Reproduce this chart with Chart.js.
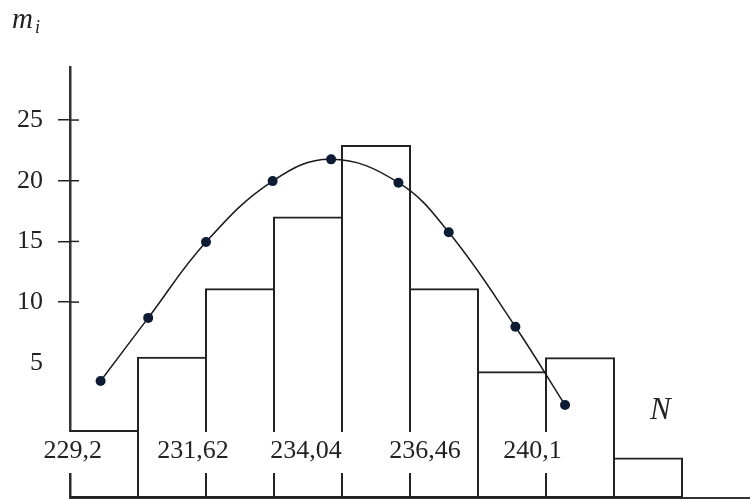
<!DOCTYPE html>
<html>
<head>
<meta charset="utf-8">
<title>Histogram m_i</title>
<script src="https://cdn.jsdelivr.net/npm/chart.js@4/dist/chart.umd.min.js"></script>
<style>
  html, body { margin: 0; padding: 0; background: #fff; }
  #wrap { width: 750px; height: 499px; }
</style>
</head>
<body>
<div id="wrap"><canvas id="histChart"></canvas></div>
<script>
// bar heights m_i, the bars all start from the lower edge
const barTops = [-0.54, 5.5, 11.15, 17.05, 22.95, 11.15, 4.3, 5.45, -2.8];
const barBase = -6.14;
const yMax = 29.37;

// smooth curve through the theoretical points
const curveX = [0.45, 1.15, 2.0, 2.98, 3.84, 4.83, 5.57, 6.55, 7.28];
const curveY = [3.5, 8.7, 14.95, 19.97, 21.76, 19.84, 15.75, 7.97, 1.52];

// class boundary labels and where they sit along x
const boundLabels = ['229,2', '231,62', '234,04', '236,46', '240,1'];
const boundAt = [0.04, 1.81, 3.47, 5.22, 6.8];

const yTicks = [5, 10, 15, 20, 25];
const serif = '"Liberation Serif", "Times New Roman", serif';
const ink = '#222';

// inner half of the tick marks, boundary labels on white boxes, axis names
const overlays = {
    id: 'overlays',
    afterDatasetsDraw(chart) {
        const { ctx, chartArea, scales: { x, y } } = chart;
        ctx.save();

        ctx.strokeStyle = ink;
        ctx.lineWidth = 1.5;
        yTicks.forEach(v => {
            if (v === 5) return;
            const py = y.getPixelForValue(v);
            ctx.beginPath();
            ctx.moveTo(chartArea.left, py);
            ctx.lineTo(chartArea.left + 9, py);
            ctx.stroke();
        });

        ctx.font = '26px ' + serif;
        ctx.textAlign = 'center';
        ctx.textBaseline = 'alphabetic';
        boundLabels.forEach((t, i) => {
            const cx = x.getPixelForValue(boundAt[i]);
            const w = ctx.measureText(t).width + 14;
            ctx.fillStyle = '#fff';
            ctx.fillRect(cx - w / 2, chartArea.bottom - 66, w, 41);
            ctx.fillStyle = ink;
            ctx.fillText(t, cx, chartArea.bottom - 40);
        });

        ctx.textAlign = 'left';
        ctx.font = 'italic 29px ' + serif;
        ctx.fillText('m', 12, 28);
        ctx.font = 'italic 18px ' + serif;
        ctx.fillText('i', 35, 33);
        ctx.font = 'italic 31px ' + serif;
        ctx.fillText('N', 650, 419);

        ctx.restore();
    }
};

function generateHistChart() {
    const ctx = document.getElementById('histChart').getContext('2d');
    new Chart(ctx, {
        type: 'bar',
        data: {
            datasets: [{
                type: 'line',
                data: curveX.map((v, i) => ({ x: v, y: curveY[i] })),
                borderColor: '#1a1a1a',
                borderWidth: 1.5,
                tension: 0.4,
                fill: false,
                pointRadius: 5,
                pointBackgroundColor: '#0d1b33',
                pointBorderWidth: 0,
                order: 1
            }, {
                type: 'bar',
                data: barTops.map((v, i) => ({ x: i + 0.5, y: [barBase, v] })),
                backgroundColor: 'rgba(0,0,0,0)',
                borderColor: ink,
                borderWidth: 2,
                borderSkipped: false,
                barPercentage: 70 / 68,
                categoryPercentage: 1,
                order: 2
            }]
        },
        options: {
            responsive: true,
            maintainAspectRatio: false,
            animation: false,
            layout: {
                autoPadding: false,
                padding: { top: 67, right: 0, bottom: 1, left: 0 }
            },
            plugins: {
                legend: { display: false },
                tooltip: { enabled: false }
            },
            scales: {
                x: {
                    type: 'linear',
                    offset: false,
                    min: 0,
                    max: 10,
                    ticks: { display: false, stepSize: 1 },
                    grid: { display: false, drawTicks: false, offset: false },
                    border: { display: true, color: '#333', width: 2 },
                    afterFit: s => { s.height = 0; }
                },
                y: {
                    min: barBase,
                    max: yMax,
                    afterBuildTicks: s => { s.ticks = yTicks.map(v => ({ value: v })); },
                    afterFit: s => {
                        s.width = 70;
                        s.paddingTop = 0;
                        s.paddingBottom = 0;
                    },
                    ticks: {
                        color: ink,
                        padding: 15,
                        font: { family: serif, size: 26 }
                    },
                    grid: {
                        drawOnChartArea: false,
                        drawTicks: true,
                        tickLength: 12,
                        lineWidth: 1.5,
                        color: c => (c.tick && c.tick.value === 5) ? 'rgba(0,0,0,0)' : ink
                    },
                    border: { display: true, color: '#333', width: 2.5 }
                }
            }
        },
        plugins: [overlays]
    });
}

document.addEventListener("DOMContentLoaded", () => {
    generateHistChart();
});
</script>
</body>
</html>
